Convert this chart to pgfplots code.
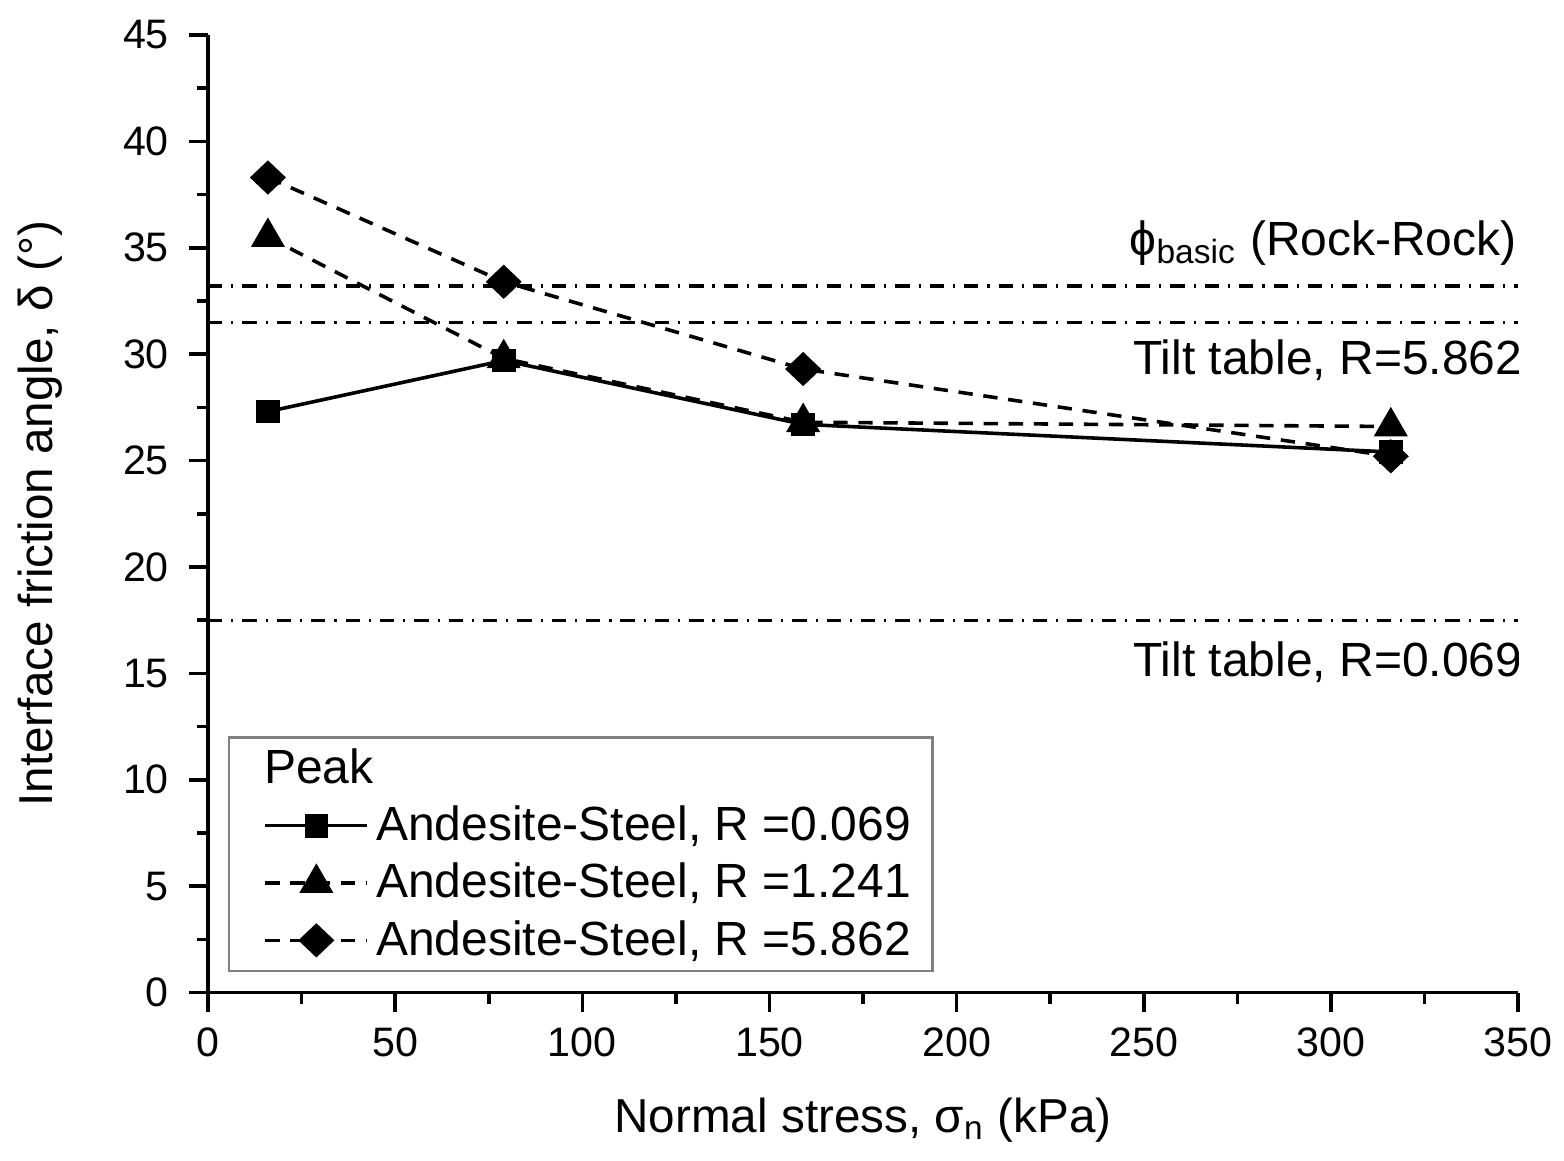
\documentclass[border=0pt]{standalone}
\usepackage{fontspec}
\setmainfont{Liberation Sans}
\usepackage{pgfplots}
\pgfplotsset{compat=1.18}
\begin{document}
\begin{tikzpicture}
\begin{axis}[
  width=12.86cm, height=9.40cm, scale only axis,
  xmin=0, xmax=350, ymin=0, ymax=45,
  axis x line*=bottom, axis y line*=left,
  axis line style={-, line width=1.1pt},
  xtick={0,50,...,350}, ytick={0,5,...,45},
  minor x tick num=1, minor y tick num=1,
  tick align=outside,
  major tick length=0.19cm, minor tick length=0.11cm,
  tick style={black, line width=1pt},
  /pgf/number format/assume math mode=true,
  ticklabel style={font=\fontsize{11.5}{13}\selectfont},
  xticklabel style={yshift=-1pt},
  yticklabel style={xshift=-2pt},
  xlabel={Normal stress, σ\textsubscript{n} (kPa)},
  ylabel={Interface friction angle, δ (°)},
  label style={font=\fontsize{13.3}{16}\selectfont},
  xlabel style={at={(rel axis cs:0.5,-0.133)}, anchor=center},
  ylabel style={at={(rel axis cs:-0.128,0.5)}, anchor=center},
  legend cell align=left,
  legend style={at={(0.015,0.021)}, anchor=south west, draw=gray, line width=0.7pt,
    font=\fontsize{13.4}{16}\selectfont, row sep=0.8pt, inner xsep=4pt, inner ysep=1pt},
  legend image code/.code={
    \path (-0.2cm,0cm);
    \draw[mark repeat=2, mark phase=2] plot coordinates {(0cm,0cm) (0.5cm,0cm) (1.0cm,0cm)};},
]
\addlegendimage{empty legend}
\addlegendentry{\hspace{-1.10cm}Peak}
\addplot[black, line width=1pt, mark=square*, mark size=2.8pt, mark options={solid}]
  coordinates {(16,27.3) (79,29.7) (159,26.7) (316,25.4)};
\addlegendentry{Andesite-Steel, R =0.069}
\addplot[black, line width=1pt, dash pattern=on 4pt off 3pt, mark=triangle*, mark size=4.5pt, mark options={solid}]
  coordinates {(16,35.5) (79,29.8) (159,26.8) (316,26.6)};
\addlegendentry{Andesite-Steel, R =1.241}
\addplot[black, line width=1pt, dash pattern=on 4pt off 3pt, mark=diamond*, mark size=4.1pt, mark options={solid, xscale=1.4}]
  coordinates {(16,38.3) (79,33.4) (159,29.3) (316,25.2)};
\addlegendentry{Andesite-Steel, R =5.862}
\addplot[black, line width=0.9pt, dash pattern=on 4pt off 2.5pt on 0.6pt off 2.5pt, forget plot]
  coordinates {(0,33.2) (350,33.2)};
\addplot[black, line width=0.9pt, dash pattern=on 4pt off 2.5pt on 0.6pt off 2.5pt, forget plot]
  coordinates {(0,31.5) (350,31.5)};
\addplot[black, line width=0.9pt, dash pattern=on 4pt off 2.5pt on 0.6pt off 2.5pt, forget plot]
  coordinates {(0,17.5) (350,17.5)};
\node[anchor=east, font=\fontsize{13.4}{16}\selectfont] at (axis cs:353,35.2)
  {ϕ\textsubscript{basic} (Rock-Rock)};
\node[anchor=east, font=\fontsize{13.4}{16}\selectfont] at (axis cs:354.5,29.7)
  {Tilt table, R=5.862};
\node[anchor=east, font=\fontsize{13.4}{16}\selectfont] at (axis cs:354.5,15.5)
  {Tilt table, R=0.069};
\coordinate (bbl) at (rel axis cs:-0.1588,-0.1754);
\coordinate (btr) at (rel axis cs:1.0351,1.0365);
\end{axis}
\pgfresetboundingbox
\path[use as bounding box] (bbl) rectangle (btr);
\end{tikzpicture}
\end{document}
